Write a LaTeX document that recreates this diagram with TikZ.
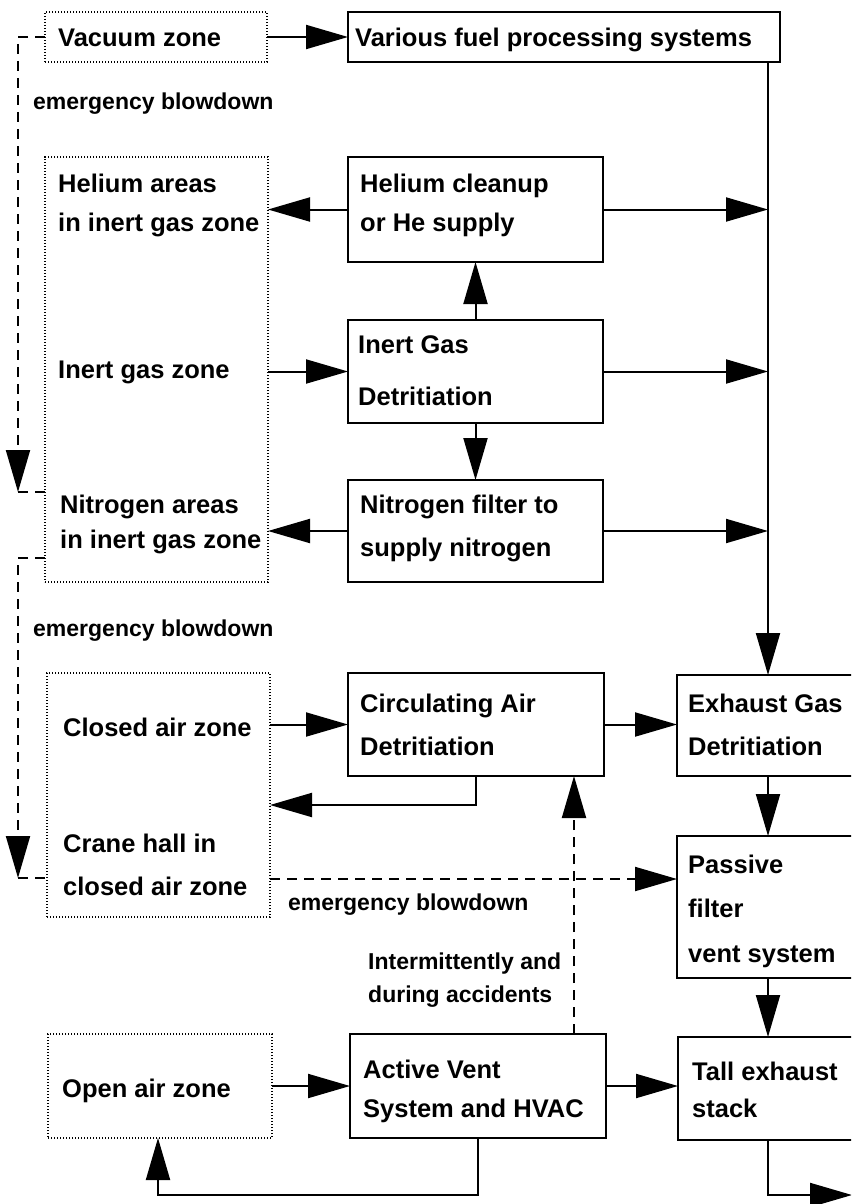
\documentclass[tikz,border=0pt]{standalone}
\usepackage{fontspec}
\newfontfamily\labfont{Liberation Sans Bold}
\usetikzlibrary{arrows.meta}
\begin{document}
\begin{tikzpicture}[x=1pt,y=-1pt,
  box/.style={draw, line width=2pt, inner sep=0pt, outer sep=0pt, anchor=north west},
  zone/.style={draw, line width=1.6pt, dash pattern=on 1.4pt off 1.6pt, inner sep=0pt, outer sep=0pt, anchor=north west},
  txt/.style={font=\labfont\fontsize{25.5}{25.5}\selectfont, anchor=base west, inner sep=0pt},
  sml/.style={font=\labfont\fontsize{23}{23}\selectfont, anchor=base west, inner sep=0pt},
  flow/.style={line width=2pt, -{Triangle[length=42pt,width=24pt]}},
  emer/.style={flow, dash pattern=on 10pt off 7pt},
  dline/.style={line width=2pt, dash pattern=on 10pt off 7pt}]
\clip (0,0) rectangle (851,1204);
\fill[white] (0,0) rectangle (851,1204);

% zones (dotted)
\node[zone, minimum width=222pt, minimum height=50pt] (vac) at (45,12) {};
\node[zone, minimum width=223pt, minimum height=425pt] (inz) at (45,157) {};
\node[zone, minimum width=223pt, minimum height=244pt] (clz) at (47,673) {};
\node[zone, minimum width=224pt, minimum height=104pt] (opz) at (48,1034) {};

% boxes
\node[box, minimum width=432pt, minimum height=50pt] (fuel) at (348,12) {};
\node[box, minimum width=255pt, minimum height=105pt] (hecl) at (348,157) {};
\node[box, minimum width=255pt, minimum height=103pt] (igd) at (348,320) {};
\node[box, minimum width=255pt, minimum height=102pt] (nf) at (348,480) {};
\node[box, minimum width=256pt, minimum height=103pt] (cad) at (348,673) {};
\node[box, minimum width=203pt, minimum height=101pt] (egd) at (677,675) {};
\node[box, minimum width=203pt, minimum height=142pt] (pfv) at (677,836) {};
\node[box, minimum width=256pt, minimum height=104pt] (av) at (350,1034) {};
\node[box, minimum width=202pt, minimum height=103pt] (tes) at (678,1037) {};

% texts
\node[txt] (t1) at (58,47) {Vacuum zone};
\node[txt] (t2) at (355,47) {Various fuel processing systems};
\node[txt] (t3) at (58,192) {Helium areas};
\node[txt] (t4) at (58,231) {in inert gas zone};
\node[txt] (t5) at (58,378) {Inert gas zone};
\node[txt] (t6) at (60,513) {Nitrogen areas};
\node[txt] (t7) at (60,548) {in inert gas zone};
\node[txt] (t8) at (360,192) {Helium cleanup};
\node[txt] (t9) at (360,231) {or He supply};
\node[txt] (t10) at (358,353) {Inert Gas};
\node[txt] (t11) at (358,405) {Detritiation};
\node[txt] (t12) at (360,513) {Nitrogen filter to};
\node[txt] (t13) at (360,556) {supply nitrogen};
\node[txt] (t14) at (63,736) {Closed air zone};
\node[txt] (t15) at (63,852) {Crane hall in};
\node[txt] (t16) at (63,895) {closed air zone};
\node[txt] (t17) at (360,712) {Circulating Air};
\node[txt] (t18) at (360,755) {Detritiation};
\node[txt] (t19) at (688,712) {Exhaust Gas};
\node[txt] (t20) at (688,755) {Detritiation};
\node[txt] (t21) at (688,873) {Passive};
\node[txt] (t22) at (688,917) {filter};
\node[txt] (t23) at (688,962) {vent system};
\node[txt] (t24) at (62,1097) {Open air zone};
\node[txt] (t25) at (363,1078) {Active Vent};
\node[txt] (t26) at (363,1117) {System and HVAC};
\node[txt] (t27) at (692,1080) {Tall exhaust};
\node[txt] (t28) at (692,1117) {stack};
\node[sml] (e1) at (33,110) {emergency blowdown};
\node[sml] (e2) at (33,636) {emergency blowdown};
\node[sml] (e3) at (288,910) {emergency blowdown};
\node[sml] (i1) at (368,969) {Intermittently and};
\node[sml] (i2) at (368,1002) {during accidents};

% helper coordinates
\coordinate (bus) at (768,62);
\coordinate (c1) at (18,492);
\coordinate (c2) at (18,878);
\coordinate (out) at (852,1195);

% solid connectors
\draw[flow] (vac.east) -- (fuel.west);
\draw[flow] (bus) -- (bus |- egd.north);
\draw[flow] (hecl.west) -- (hecl.west -| inz.east);
\draw[flow] (hecl.east) -- (hecl.east -| bus);
\draw[flow] (igd.north) -- (hecl.south);
\draw[flow] (igd.west -| inz.east) -- (igd.west);
\draw[flow] (igd.east) -- (igd.east -| bus);
\draw[flow] (igd.south) -- (nf.north);
\draw[flow] (nf.west) -- (nf.west -| inz.east);
\draw[flow] (nf.east) -- (nf.east -| bus);
\draw[flow] (cad.west -| clz.east) -- (cad.west);
\draw[flow] (cad.south) |- (480,805 -| clz.east);
\draw[flow] (cad.east) -- (cad.east -| egd.west);
\draw[flow] (bus |- egd.south) -- (bus |- pfv.north);
\draw[flow] (bus |- pfv.south) -- (bus |- tes.north);
\draw[flow] (av.west -| opz.east) -- (av.west);
\draw[flow] (av.east) -- (av.east -| tes.west);
\draw[flow] (av.south) -- (av.south |- out) -| (158,0 |- opz.south);
\draw[flow] (bus |- tes.south) |- (out);

% dashed connectors
\draw[emer] (vac.west) -| (c1);
\draw[dline] (c1) -- (c1 -| inz.west);
\draw[emer] (inz.west |- 0,558) -| (c2);
\draw[dline] (c2) -- (c2 -| clz.west);
\draw[emer] (clz.east |- 0,879) -- (pfv.west |- 0,879);
\draw[emer] (574,0 |- av.north) -- (574,0 |- cad.south);
\end{tikzpicture}
\end{document}
